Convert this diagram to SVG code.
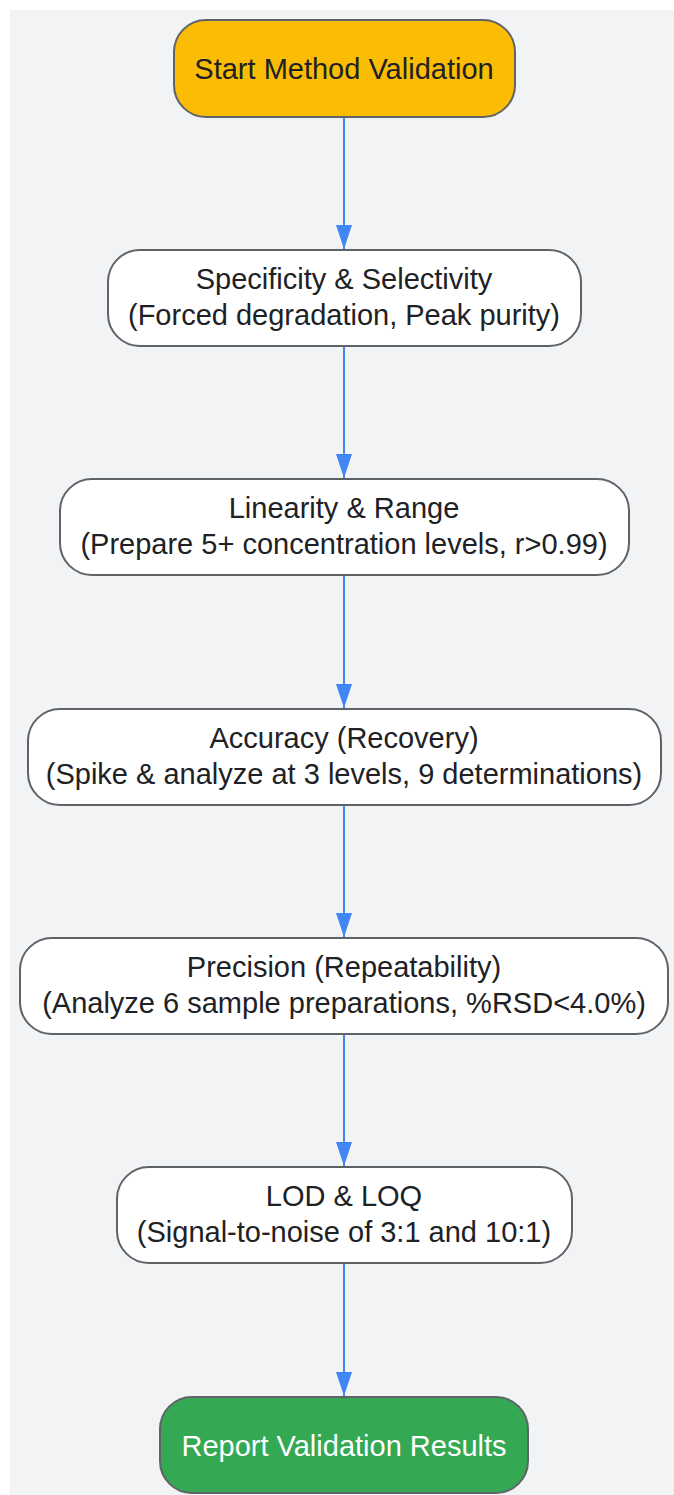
<svg xmlns="http://www.w3.org/2000/svg" width="674" height="1495" viewBox="0 0 674 1495">
<style>
.n{stroke:#5f6368;stroke-width:2;fill:#ffffff}
.t{font-family:"Liberation Sans",Arial,sans-serif;font-size:29px;fill:#202124;text-anchor:middle}
.e{stroke:#4285f4;stroke-width:2;fill:none}
</style>
<defs>
<marker id="a" viewBox="0 0 24 16" refX="24" refY="8" markerWidth="24" markerHeight="16" markerUnits="userSpaceOnUse" orient="auto">
<path d="M0,0 L24,8 L0,16 z" fill="#4285f4"/>
</marker>
</defs>
<rect x="10" y="10" width="664" height="1485" fill="#f1f3f4"/>
<g id="edges">
<line class="e" x1="344" y1="117" x2="344" y2="249" marker-end="url(#a)"/>
<line class="e" x1="344" y1="346" x2="344" y2="478" marker-end="url(#a)"/>
<line class="e" x1="344" y1="575" x2="344" y2="708" marker-end="url(#a)"/>
<line class="e" x1="344" y1="805" x2="344" y2="937" marker-end="url(#a)"/>
<line class="e" x1="344" y1="1034" x2="344" y2="1166" marker-end="url(#a)"/>
<line class="e" x1="344" y1="1263" x2="344" y2="1396" marker-end="url(#a)"/>
</g>
<g id="start">
<rect class="n" x="174" y="20" width="341" height="97" rx="32" style="fill:#fbbc04"/>
<text class="t" x="344" y="79">Start Method Validation</text>
</g>
<g id="specificity">
<rect class="n" x="108" y="250" width="473" height="96" rx="32"/>
<text class="t" x="344" y="289">Specificity &amp; Selectivity</text>
<text class="t" x="344" y="325">(Forced degradation, Peak purity)</text>
</g>
<g id="linearity">
<rect class="n" x="60" y="479" width="569" height="96" rx="32"/>
<text class="t" x="344" y="518">Linearity &amp; Range</text>
<text class="t" x="344" y="554">(Prepare 5+ concentration levels, r&gt;0.99)</text>
</g>
<g id="accuracy">
<rect class="n" x="28" y="709" width="633" height="96" rx="32"/>
<text class="t" x="344" y="748">Accuracy (Recovery)</text>
<text class="t" x="344" y="784">(Spike &amp; analyze at 3 levels, 9 determinations)</text>
</g>
<g id="precision">
<rect class="n" x="20" y="938" width="648" height="96" rx="32"/>
<text class="t" x="344" y="977">Precision (Repeatability)</text>
<text class="t" x="344" y="1013">(Analyze 6 sample preparations, %RSD&lt;4.0%)</text>
</g>
<g id="lod">
<rect class="n" x="117" y="1167" width="455" height="96" rx="32"/>
<text class="t" x="344" y="1206">LOD &amp; LOQ</text>
<text class="t" x="344" y="1242">(Signal-to-noise of 3:1 and 10:1)</text>
</g>
<g id="report">
<rect class="n" x="160" y="1397" width="368" height="96" rx="32" style="fill:#34a853"/>
<text class="t" x="344" y="1456" style="fill:#ffffff">Report Validation Results</text>
</g>
</svg>
